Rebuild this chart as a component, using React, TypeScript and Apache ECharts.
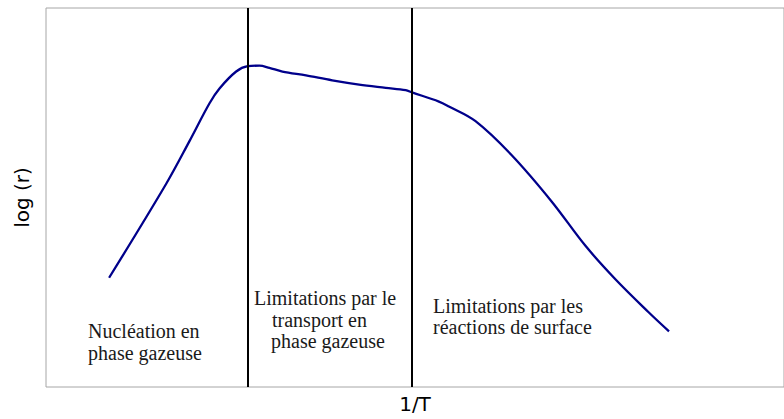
import React, { useEffect, useRef } from "react";
import * as echarts from "echarts";

// Curve: x = 1/T (arbitrary units 0-100), y = log(r) (arbitrary units 0-100)
const curveX = [8.55, 16.31, 19.46, 22.16, 23.51, 25.77, 27.34, 28.92, 30.27, 32.03, 35.23, 38.78, 42.43, 46.04, 48.74, 49.59, 53.24, 54.59, 58.2, 63.11, 68.51, 73.07, 77.12, 81.62, 84.42];
const curveY = [28.83, 53.7, 64.95, 74.87, 78.76, 83.24, 84.64, 84.79, 84.2, 83.24, 82.2, 80.91, 79.79, 78.94, 78.32, 77.72, 75.31, 74.02, 70.13, 61.14, 48.96, 37.31, 28.5, 19.8, 14.69];

// Regime boundaries on the 1/T axis
const boundaries = [27.34, 49.59];

// Region annotations (one entry per line)
const regionLines = [
  "Nucléation en",
  "phase gazeuse",
  "Limitations par le",
  "transport en",
  "phase gazeuse",
  "Limitations par les",
  "réactions de surface",
];
const regionLinePos: [number, number][] = [
  [88, 331],
  [88, 353],
  [254, 298],
  [272, 320],
  [271, 341],
  [433, 306],
  [433, 327],
];

const xName = "1/T";
const yName = "log (r)";

export default function App() {
  const ref = useRef<HTMLDivElement>(null);
  useEffect(() => {
    if (!ref.current) return;
    const chart = echarts.init(ref.current, undefined, { renderer: "svg" });
    const data = curveX.map((x, i) => [x, curveY[i]]);
    chart.setOption({
      animation: false,
      backgroundColor: "#ffffff",
      grid: {
        left: 46,
        right: -2,
        top: 8,
        bottom: 25,
        show: true,
        borderColor: "#a6a6a6",
        borderWidth: 1,
        backgroundColor: "transparent",
      },
      xAxis: {
        type: "value",
        min: 0,
        max: 100,
        name: xName,
        nameLocation: "middle",
        nameGap: 7,
        nameTextStyle: { fontFamily: "DejaVu Sans", fontSize: 20, color: "#000", verticalAlign: "top" },
        axisLine: { show: false },
        axisTick: { show: false },
        axisLabel: { show: false },
        splitLine: { show: false },
      },
      yAxis: {
        type: "value",
        min: 0,
        max: 100,
        name: yName,
        nameLocation: "middle",
        nameGap: 14,
        nameRotate: 90,
        nameTextStyle: { fontFamily: "DejaVu Sans", fontSize: 20, color: "#000" },
        axisLine: { show: false },
        axisTick: { show: false },
        axisLabel: { show: false },
        splitLine: { show: false },
      },
      series: [
        {
          type: "line",
          data,
          smooth: 0.35,
          symbol: "none",
          lineStyle: { color: "#00008b", width: 2.3 },
          markLine: {
            silent: true,
            symbol: "none",
            label: { show: false },
            lineStyle: { color: "#000000", width: 2, type: "solid" },
            data: boundaries.map((b) => ({ xAxis: b })),
          },
          z: 3,
        },
      ],
      graphic: regionLines.map((t, i) => ({
        type: "text",
        x: regionLinePos[i][0],
        y: regionLinePos[i][1],
        style: {
          text: t,
          fontFamily: "Liberation Serif",
          fontSize: 20,
          fill: "#1a1a1a",
          verticalAlign: "middle",
          align: "left",
        },
      })),
    });
    return () => chart.dispose();
  }, []);
  return (
    <div
      ref={ref}
      style={{ position: "absolute", left: 0, top: 0, width: 784, height: 419 }}
    />
  );
}
